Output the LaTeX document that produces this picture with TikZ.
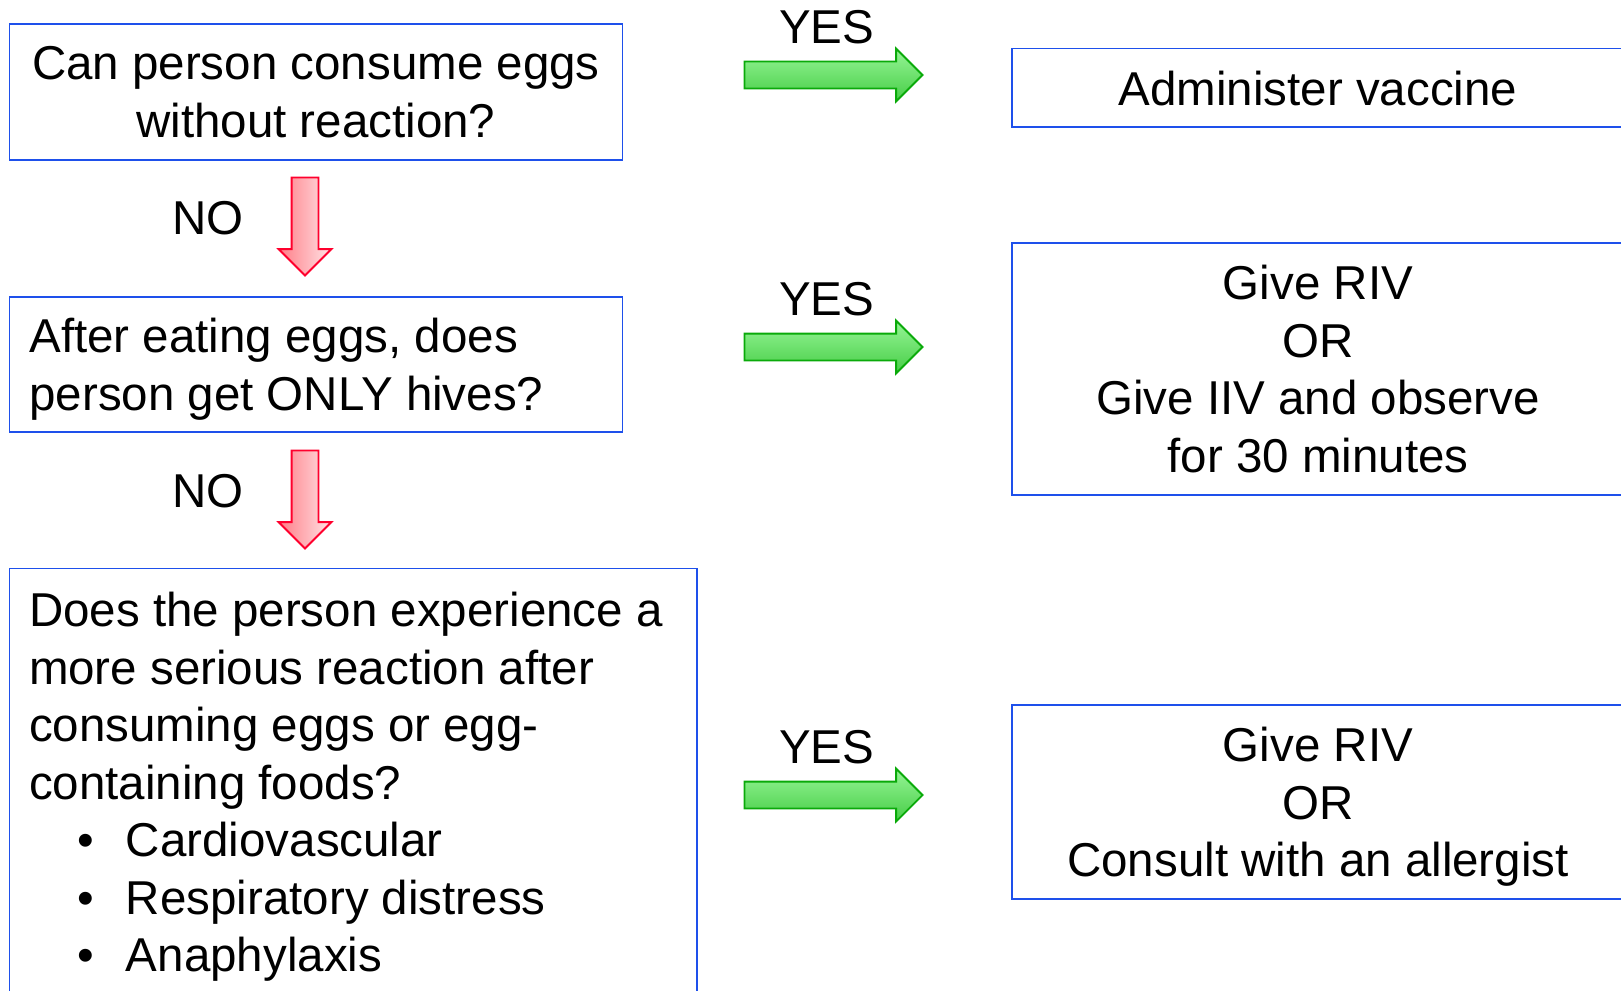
\documentclass[tikz,border=0pt]{standalone}
\usepackage{fontspec}
\setmainfont{Liberation Sans}
\usetikzlibrary{shapes.arrows,positioning}
\definecolor{boxblue}{RGB}{30,80,235}
\definecolor{yesline}{RGB}{10,170,10}
\definecolor{yestop}{RGB}{150,245,150}
\definecolor{yesbot}{RGB}{70,205,70}
\definecolor{noline}{RGB}{255,0,45}
\definecolor{notop}{RGB}{255,125,135}
\definecolor{nobot}{RGB}{255,228,230}

\begin{document}
\begin{tikzpicture}[x=1pt, y=-1pt, font=\fontsize{47.5}{57.5}\selectfont,
  qbox/.style={draw=boxblue, line width=1.5pt, minimum width=613pt, inner sep=0pt, text depth=0pt},
  abox/.style={draw=boxblue, line width=1.5pt, minimum width=612pt, inner sep=0pt, text depth=0pt, align=center},
  yesarrow/.style={single arrow, draw=yesline, line width=1.8pt, top color=yestop, bottom color=yesbot,
    minimum height=178pt, inner xsep=0pt, inner ysep=12.5pt, single arrow head extend=13pt},
  noarrow/.style={single arrow, rotate=-90, draw=noline, line width=1.8pt, left color=notop, right color=nobot,
    minimum height=98pt, inner xsep=0pt, inner ysep=12.5pt, single arrow head extend=13pt},
  tag/.style={inner sep=0pt}]
  \useasboundingbox (0,0) rectangle (1621,990);
  \clip (0,0) rectangle (1621,990);

  % questions
  \node[qbox, minimum height=136pt, align=center] (eggs) at (315.9,92) {Can person consume eggs\\without reaction?};
  \node[qbox, minimum height=135pt, align=left] (hives) at (315.9,364.4)
    {\makebox[573pt][l]{After eating eggs, does}\\person get ONLY hives?};
  \node[qbox, minimum width=687.5pt, minimum height=427pt, align=left] (severe) at (353,782)
    {\makebox[648pt][l]{Does the person experience a}\\more serious reaction after\\consuming eggs or egg-\\containing foods?\\
     \makebox[97pt][l]{\hspace{48pt}\textbullet}Cardiovascular\\
     \makebox[97pt][l]{\hspace{48pt}\textbullet}Respiratory distress\\
     \makebox[97pt][l]{\hspace{48pt}\textbullet}Anaphylaxis};

  % answers
  \node[abox, minimum height=78.6pt] (vaccine) at (1318,87.9) {Administer vaccine};
  \node[abox, minimum height=252pt] (observe) at (1318,369) {Give RIV\\OR\\Give IIV and observe\\for 30 minutes};
  \node[abox, minimum height=194pt] (allergist) at (1318,802) {Give RIV\\OR\\Consult with an allergist};

  % yes arrows
  \node[yesarrow] (yes1) at (826.8,75) {};
  \node[yesarrow] (yes2) at (826.8,347) {};
  \node[yesarrow] (yes3) at (826.8,795) {};
  \node[tag, above=31pt of yes1.center] (yeslab1) {YES};
  \node[tag, above=31pt of yes2.center] (yeslab2) {YES};
  \node[tag, above=31pt of yes3.center] (yeslab3) {YES};

  % no arrows
  \node[noarrow] (no1) at (305,219.8) {};
  \node[noarrow] (no2) at (305,492.8) {};
  \node[tag, left=61pt of no1.center, yshift=1.8pt] (nolab1) {NO};
  \node[tag, left=61pt of no2.center, yshift=1.8pt] (nolab2) {NO};
\end{tikzpicture}
\end{document}
